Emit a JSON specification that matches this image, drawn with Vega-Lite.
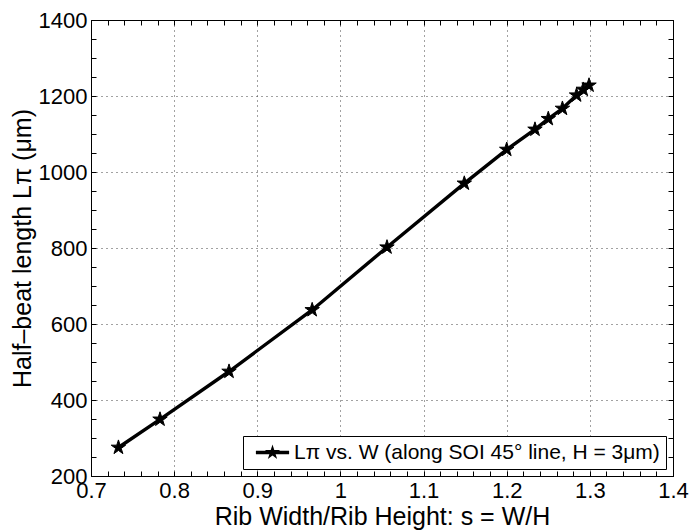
{
  "$schema": "https://vega.github.io/schema/vega-lite/v6.json",
  "width": 582,
  "height": 456,
  "autosize": {"type": "none"},
  "padding": {"left": 91, "top": 20, "right": 18, "bottom": 55},
  "background": "white",
  "config": {
    "font": "Liberation Sans",
    "view": {"stroke": "black", "strokeWidth": 1},
    "axis": {
      "domainColor": "black",
      "tickColor": "black",
      "labelColor": "black",
      "titleColor": "black",
      "labelFont": "Liberation Sans",
      "titleFont": "Liberation Sans",
      "labelFontSize": 22,
      "titleFontSize": 25,
      "titleFontWeight": "normal",
      "tickSize": -5,
      "labelPadding": 9,
      "labelFlush": false,
      "labelOverlap": false
    },
    "legend": {
      "orient": "bottom-right",
      "offset": 7,
      "strokeColor": "black",
      "fillColor": "white",
      "padding": 6,
      "cornerRadius": 0,
      "labelFont": "Liberation Sans",
      "labelFontSize": 21,
      "labelColor": "black",
      "labelLimit": 600
    }
  },
  "data": {
    "values": [
      {"s": 0.733, "L": 275, "series": "Lπ vs. W (along SOI 45° line, H = 3μm)"},
      {"s": 0.783, "L": 349, "series": "Lπ vs. W (along SOI 45° line, H = 3μm)"},
      {"s": 0.866, "L": 475, "series": "Lπ vs. W (along SOI 45° line, H = 3μm)"},
      {"s": 0.966, "L": 637, "series": "Lπ vs. W (along SOI 45° line, H = 3μm)"},
      {"s": 1.056, "L": 802, "series": "Lπ vs. W (along SOI 45° line, H = 3μm)"},
      {"s": 1.149, "L": 970, "series": "Lπ vs. W (along SOI 45° line, H = 3μm)"},
      {"s": 1.2, "L": 1059, "series": "Lπ vs. W (along SOI 45° line, H = 3μm)"},
      {"s": 1.234, "L": 1112, "series": "Lπ vs. W (along SOI 45° line, H = 3μm)"},
      {"s": 1.25, "L": 1140, "series": "Lπ vs. W (along SOI 45° line, H = 3μm)"},
      {"s": 1.267, "L": 1167, "series": "Lπ vs. W (along SOI 45° line, H = 3μm)"},
      {"s": 1.284, "L": 1202, "series": "Lπ vs. W (along SOI 45° line, H = 3μm)"},
      {"s": 1.292, "L": 1217, "series": "Lπ vs. W (along SOI 45° line, H = 3μm)"},
      {"s": 1.299, "L": 1228, "series": "Lπ vs. W (along SOI 45° line, H = 3μm)"}
    ]
  },
  "resolve": {"axis": {"x": "independent", "y": "independent"}},
  "layer": [
    {
      "mark": {"type": "line", "color": "black", "strokeWidth": 3.4},
      "encoding": {
        "x": {
          "field": "s", "type": "quantitative",
          "scale": {"domain": [0.7, 1.4], "nice": false, "zero": false},
          "axis": {
            "orient": "bottom",
            "title": "Rib Width/Rib Height: s = W/H",
            "titleBaseline": "alphabetic",
            "titleY": 48,
            "values": [0.7,0.72,0.74,0.76,0.78,0.8,0.82,0.84,0.86,0.88,0.9,0.92,0.94,0.96,0.98,1,1.02,1.04,1.06,1.08,1.1,1.12,1.14,1.16,1.18,1.2,1.22,1.24,1.26,1.28,1.3,1.32,1.34,1.36,1.38,1.4],
            "labelExpr": "abs(datum.value*10 - round(datum.value*10)) < 0.000001 ? format(datum.value, '~g') : ''",
            "grid": true,
            "gridColor": "#444",
            "gridDash": [1, 4],
            "gridWidth": 1,
            "gridOpacity": {"condition": {"test": "abs(datum.value*10 - round(datum.value*10)) < 0.000001", "value": 1}, "value": 0}
          }
        },
        "y": {
          "field": "L", "type": "quantitative",
          "scale": {"domain": [200, 1400], "nice": false, "zero": false},
          "axis": {
            "orient": "left",
            "title": "Half–beat length Lπ (μm)",
            "titleBaseline": "alphabetic",
            "titleX": -61,
            "values": [200,250,300,350,400,450,500,550,600,650,700,750,800,850,900,950,1000,1050,1100,1150,1200,1250,1300,1350,1400],
            "labelExpr": "datum.value % 200 == 0 ? datum.value : ''",
            "grid": true,
            "gridColor": "#444",
            "gridDash": [1, 4],
            "gridWidth": 1,
            "gridOpacity": {"condition": {"test": "datum.value % 200 == 0", "value": 1}, "value": 0}
          }
        }
      }
    },
    {
      "mark": {
        "type": "point",
        "filled": true,
        "opacity": 1,
        "size": 230,
        "stroke": "black",
        "strokeWidth": 1,
        "shape": "M0,-1L0.2245,-0.309L0.9511,-0.309L0.3633,0.118L0.5878,0.809L0,0.382L-0.5878,0.809L-0.3633,0.118L-0.9511,-0.309L-0.2245,-0.309Z"
      },
      "encoding": {
        "x": {
          "field": "s", "type": "quantitative",
          "axis": {
            "orient": "top",
            "title": null,
            "labels": false,
            "grid": false,
            "values": [0.7,0.72,0.74,0.76,0.78,0.8,0.82,0.84,0.86,0.88,0.9,0.92,0.94,0.96,0.98,1,1.02,1.04,1.06,1.08,1.1,1.12,1.14,1.16,1.18,1.2,1.22,1.24,1.26,1.28,1.3,1.32,1.34,1.36,1.38,1.4]
          }
        },
        "y": {
          "field": "L", "type": "quantitative",
          "axis": {
            "orient": "right",
            "title": null,
            "labels": false,
            "grid": false,
            "values": [200,250,300,350,400,450,500,550,600,650,700,750,800,850,900,950,1000,1050,1100,1150,1200,1250,1300,1350,1400]
          }
        },
        "color": {
          "field": "series", "type": "nominal",
          "scale": {"range": ["black"]},
          "legend": {
            "title": null,
            "symbolType": "M-2.1,-0.22L2.1,-0.22L2.1,0.22L-2.1,0.22Z M0,-1L0.2245,-0.309L0.9511,-0.309L0.3633,0.118L0.5878,0.809L0,0.382L-0.5878,0.809L-0.3633,0.118L-0.9511,-0.309L-0.2245,-0.309Z",
            "symbolSize": 250,
            "symbolStrokeWidth": 0,
            "symbolOffset": 13,
            "labelOffset": 11
          }
        }
      }
    }
  ]
}
